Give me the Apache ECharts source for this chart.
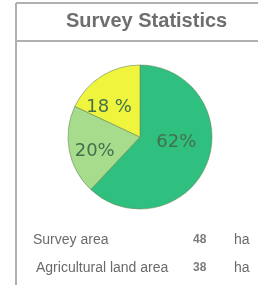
<!DOCTYPE html>
<html>
<head>
<meta charset="utf-8">
<script src="https://cdn.jsdelivr.net/npm/echarts@6/dist/echarts.min.js"></script>
<style>
	html, body { margin: 0; padding: 0; background: #fff; }
	#main { width: 258px; height: 285px; }
</style>
</head>
<body>
<div id="main"></div>
<script>
var titleText = "Survey Statistics";
var sliceNames = ["Other", "Agricultural", "Built"];
var sliceValues = [62, 20, 18];
var sliceLabels = ["62%", "20%", "18 %"];
var sliceColors = ["#2fbf7e", "#a6dc8c", "#eef53c"];

var rowLabels = ["Survey area", "Agricultural land area"];
var rowValues = ["48", "38"];
var rowUnit = "ha";

// 標籤位移
var labelOffsets = [[0, -9], [-7, 7], [-10, 3]];

var myChart = echarts.init(document.getElementById("main"), null, { renderer: "canvas" });

// 表格文字
var rowY = [241, 269];
var rowX = [33, 36];
var rowGraphics = [];
rowLabels.forEach(function (t, i) {
	rowGraphics.push({
		type: "text", left: rowX[i], top: rowY[i] - 8,
		style: { text: t, fill: "#6a6a6a", font: "14px 'Liberation Sans', Arial, sans-serif" }
	});
	rowGraphics.push({
		type: "text", left: 193, top: rowY[i] - 7,
		style: { text: rowValues[i], fill: "#7a7a7a", font: "bold 12px 'Liberation Sans', Arial, sans-serif" }
	});
	rowGraphics.push({
		type: "text", left: 234, top: rowY[i] - 8,
		style: { text: rowUnit, fill: "#6a6a6a", font: "14px 'Liberation Sans', Arial, sans-serif" }
	});
});

option = {
	backgroundColor: "#fff",
	animation: false,
	graphic: [
		{ type: "line", shape: { x1: 16, y1: 3, x2: 258, y2: 3 }, style: { stroke: "#b0b0b0", lineWidth: 2 } },
		{ type: "line", shape: { x1: 16, y1: 3, x2: 16, y2: 285 }, style: { stroke: "#b0b0b0", lineWidth: 2 } },
		{ type: "line", shape: { x1: 16, y1: 41, x2: 258, y2: 41 }, style: { stroke: "#b0b0b0", lineWidth: 2 } },
		{
			type: "text", left: 66, top: 11,
			style: { text: titleText, fill: "#6e6e6e", font: "bold 20px 'Liberation Sans', Arial, sans-serif" }
		}
	].concat(rowGraphics),
	series: [
		{
			type: "pie",
			center: [140, 137],
			radius: 72,
			startAngle: 90,
			clockwise: true,
			silent: true,
			label: {
				show: true,
				position: "inside",
				formatter: function (p) { return sliceLabels[p.dataIndex]; },
				color: "#44704e",
				fontSize: 18,
				fontWeight: "normal",
				fontFamily: "'DejaVu Sans', 'Liberation Sans', Arial, sans-serif"
			},
			labelLine: { show: false },
			itemStyle: { borderColor: "#6a8a5a", borderWidth: 0.6 },
			data: sliceValues.map(function (v, i) {
				return {
					value: v,
					name: sliceNames[i],
					itemStyle: { color: sliceColors[i] },
					label: { offset: labelOffsets[i] }
				};
			})
		}
	]
};
myChart.setOption(option);
</script>
</body>
</html>
